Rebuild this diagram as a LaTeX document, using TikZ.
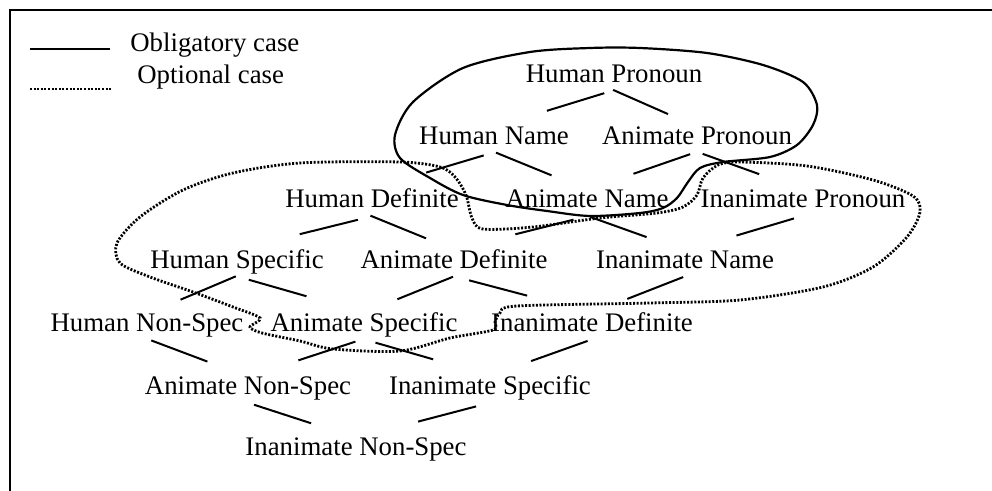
\documentclass[tikz,border=0pt]{standalone}
\usepackage{fontspec}
\setmainfont{Liberation Serif}
\usetikzlibrary{calc}

\begin{document}
\begin{tikzpicture}[
            x=0.5pt, y=-0.5pt,
            word/.style={inner sep=0pt, anchor=base, font=\fontsize{13.4}{15}\selectfont},
            link/.style={line width=1pt},
            obligatory/.style={line width=1.1pt},
            optional/.style={line width=1.4pt, dash pattern=on 1pt off 0.8pt}
        ]
        \useasboundingbox (0,0) rectangle (992,491);

        % frame
        \coordinate (frameR) at (992,10);
        \coordinate (frameC) at (10,10);
        \coordinate (frameB) at (10,491);
        \draw[line width=1pt] (frameR) -- (frameC) -- (frameB);

        % legend
        \coordinate (solidA) at (30,49);
        \coordinate (solidB) at (110,49);
        \coordinate (dotA) at (30,89);
        \coordinate (dotB) at (112,89);
        \draw[obligatory] (solidA) -- (solidB);
        \draw[optional] (dotA) -- (dotB);
        \node[word, anchor=base west] (oblig) at (130,52) {Obligatory case};
        \node[word, anchor=base west] (option) at (137,84) {Optional case};

        % lattice
        \node[word] (hpro) at (614,83) {Human Pronoun};
        \node[word] (hnam) at (494,145) {Human Name};
        \node[word] (apro) at (697,145) {Animate Pronoun};
        \node[word] (hdef) at (372,208) {Human Definite};
        \node[word] (anam) at (587,208) {Animate Name};
        \node[word] (ipro) at (803,208) {Inanimate Pronoun};
        \node[word] (hspec) at (237,269) {Human Specific};
        \node[word] (adef) at (454,269) {Animate Definite};
        \node[word] (inam) at (685,269) {Inanimate Name};
        \node[word] (hnon) at (147,332) {Human Non-Spec};
        \node[word] (aspec) at (364,332) {Animate Specific};
        \node[word] (idef) at (592,332) {Inanimate Definite};
        \node[word] (anon) at (248,395) {Animate Non-Spec};
        \node[word] (ispec) at (490,395) {Inanimate Specific};
        \node[word] (inon) at (356,456) {Inanimate Non-Spec};

        \foreach \p/\c in {hpro/hnam, hpro/apro, hnam/hdef, hnam/anam, apro/anam, apro/ipro,
                           hdef/hspec, hdef/adef, anam/adef, anam/inam, ipro/inam,
                           hspec/hnon, hspec/aspec, adef/aspec, adef/idef, inam/idef,
                           hnon/anon, aspec/anon, aspec/ispec, idef/ispec,
                           anon/inon, ispec/inon} {
            \coordinate (mid) at ($(\p.base)!.32!(\p.base -| \c.base) + (0,19)$);
            \draw[link] ($(mid)!-15pt!(\c.north)$) -- ($(mid)!15pt!(\c.north)$);
        }

        % obligatory region
        \draw[obligatory] plot[smooth cycle] coordinates {
            (797,145) (770,157) (723,162) (700,168) (688,182) (677,198) (663,208)
            (640,213) (590,216) (547,211) (507,205) (463,195) (430,178) (400,158)
            (395,135) (413,102) (463,68) (530,52) (590,48) (640,48) (707,53)
            (763,65) (803,82) (817,105) (813,125)};

        % optional region
        \draw[optional] plot[smooth cycle] coordinates {
            (300,163) (400,162) (440,167) (455,177) (466,195) (472,218) (483,229)
            (533,227) (600,218) (657,213) (683,207) (697,195) (703,178) (718,165)
            (740,162) (807,166) (873,180) (913,196) (920,212) (907,237) (873,267)
            (823,287) (740,300) (650,303) (517,306) (500,313) (495,322) (493,330)
            (450,338) (400,351) (333,349) (300,341) (262,333) (250,327) (260,318)
            (233,307) (193,292) (150,277) (120,263) (117,243) (140,217) (183,190)
            (233,173)};
\end{tikzpicture}
\end{document}
